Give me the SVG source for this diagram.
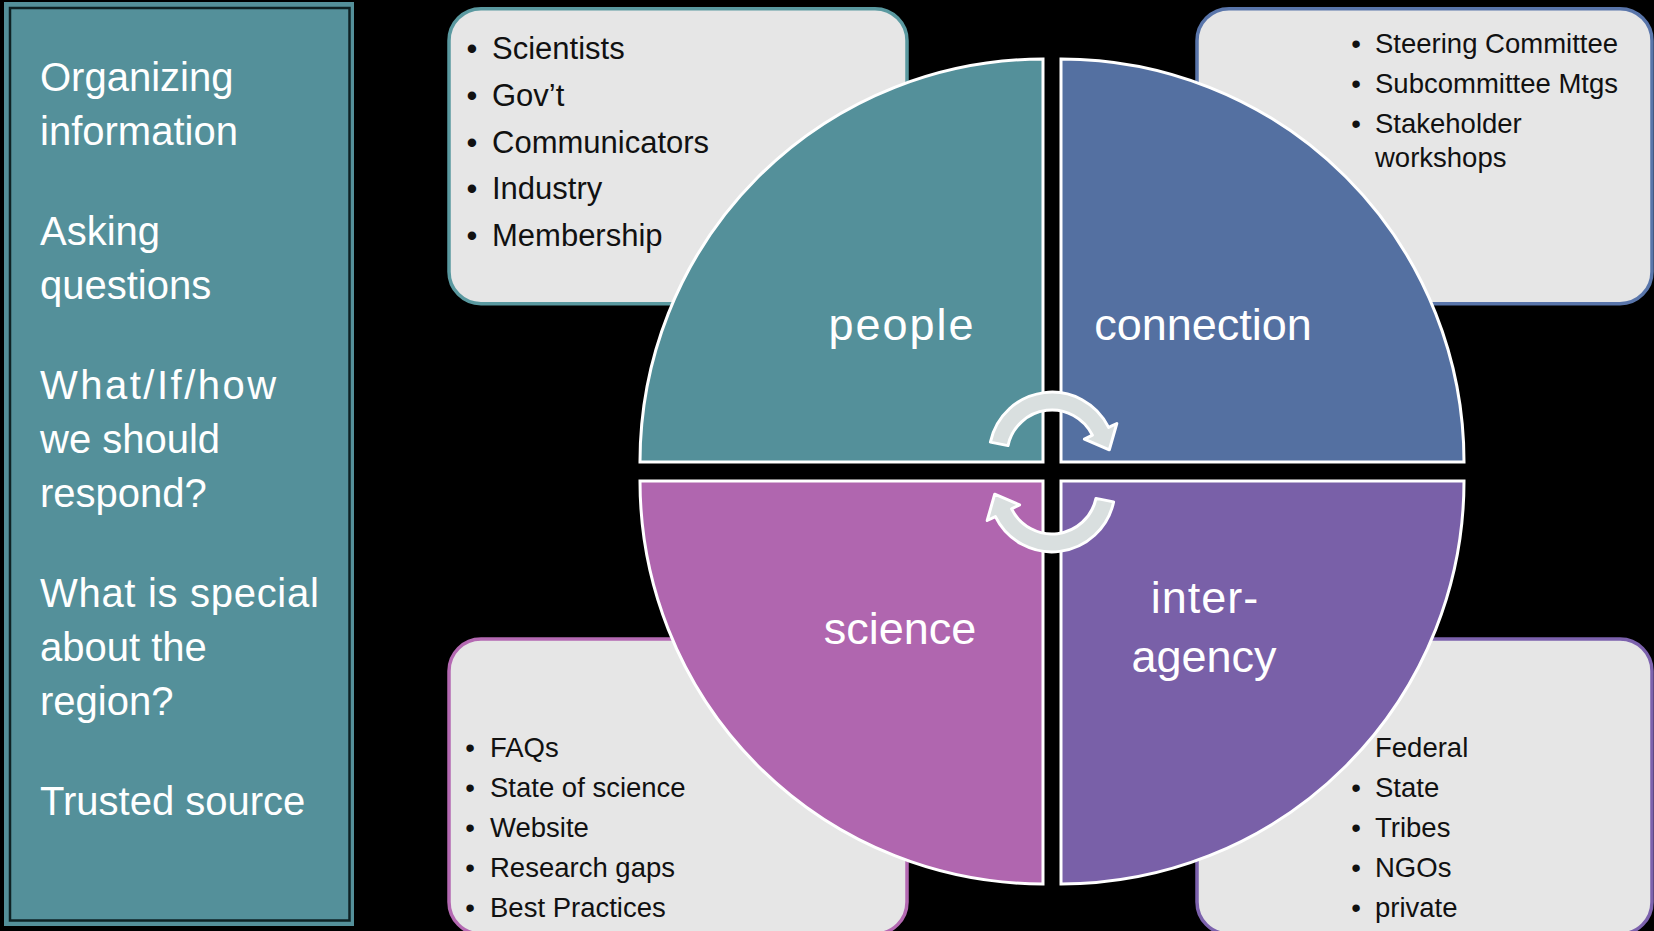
<svg xmlns="http://www.w3.org/2000/svg" width="1654" height="931" viewBox="0 0 1654 931">
<style>
.lp{font-family:"Liberation Sans",Arial,sans-serif;font-size:40px;fill:#ffffff}
.bx{fill:#e6e6e6;stroke-width:3.5}
.bt{font-family:"Liberation Sans",Arial,sans-serif;fill:#111111}
.b1{font-size:31px}
.b2{font-size:27.5px}
.q{stroke:#ffffff;stroke-width:3}
.ql{font-family:"Liberation Sans",Arial,sans-serif;font-size:45px;fill:#ffffff;text-anchor:middle}
.bu{text-anchor:middle}
.arr{fill:#d9dfdf;stroke:#ffffff;stroke-width:3;stroke-linejoin:round}
</style>
<defs>
<path id="arrowShape" d="M990.4,442.1 A63,63 0 0 1 1108.6,427.4 L1116.8,423.5 L1109.3,449.8 L1084.4,439.2 L1092.4,435.2 A45,45 0 0 0 1008.0,445.6 Z"/>
</defs>
<rect x="0" y="0" width="1654" height="931" fill="#000000"/>

<g id="left-panel">
<rect x="4" y="2" width="350" height="924" fill="#54909a"/>
<rect x="10" y="8" width="339.5" height="912.5" fill="none" stroke="#0e2224" stroke-width="2.5"/>
<text class="lp" x="40" y="91">Organizing</text>
<text class="lp" x="40" y="145">information</text>
<text class="lp" x="40" y="245">Asking</text>
<text class="lp" x="40" y="299">questions</text>
<text class="lp" x="40" y="399" letter-spacing="2.5">What/If/how</text>
<text class="lp" x="40" y="453">we should</text>
<text class="lp" x="40" y="507">respond?</text>
<text class="lp" x="40" y="607" letter-spacing="0.7">What is special</text>
<text class="lp" x="40" y="661">about the</text>
<text class="lp" x="40" y="715">region?</text>
<text class="lp" x="40" y="815">Trusted source</text>
</g>

<g id="box-people">
<rect class="bx" x="449" y="8.7" width="458" height="295" rx="32" stroke="#5a99a0"/>
<g class="bt b1">
<text class="bu" x="472" y="59">•</text><text x="492" y="59">Scientists</text>
<text class="bu" x="472" y="106">•</text><text x="492" y="106">Gov’t</text>
<text class="bu" x="472" y="153">•</text><text x="492" y="153">Communicators</text>
<text class="bu" x="472" y="199">•</text><text x="492" y="199">Industry</text>
<text class="bu" x="472" y="246">•</text><text x="492" y="246">Membership</text>
</g>
</g>

<g id="box-connection">
<rect class="bx" x="1197" y="8.7" width="455" height="295" rx="32" stroke="#5975aa"/>
<g class="bt b2">
<text class="bu" x="1356" y="53">•</text><text x="1375" y="53">Steering Committee</text>
<text class="bu" x="1356" y="93">•</text><text x="1375" y="93">Subcommittee Mtgs</text>
<text class="bu" x="1356" y="133">•</text><text x="1375" y="133">Stakeholder</text>
<text x="1375" y="167">workshops</text>
</g>
</g>

<g id="box-science">
<rect class="bx" x="449" y="639" width="458" height="295" rx="32" stroke="#b469b2"/>
<g class="bt b2">
<text class="bu" x="470" y="757">•</text><text x="490" y="757">FAQs</text>
<text class="bu" x="470" y="797">•</text><text x="490" y="797">State of science</text>
<text class="bu" x="470" y="837">•</text><text x="490" y="837">Website</text>
<text class="bu" x="470" y="877">•</text><text x="490" y="877">Research gaps</text>
<text class="bu" x="470" y="917">•</text><text x="490" y="917">Best Practices</text>
</g>
</g>

<g id="box-interagency">
<rect class="bx" x="1197" y="639" width="455" height="295" rx="32" stroke="#7c62ad"/>
<g class="bt b2">
<text x="1375" y="757">Federal</text>
<text class="bu" x="1356" y="797">•</text><text x="1375" y="797">State</text>
<text class="bu" x="1356" y="837">•</text><text x="1375" y="837">Tribes</text>
<text class="bu" x="1356" y="877">•</text><text x="1375" y="877">NGOs</text>
<text class="bu" x="1356" y="917">•</text><text x="1375" y="917">private</text>
</g>
</g>

<g id="quadrant-people">
<path class="q" d="M1043,462 L640,462 A403,403 0 0 1 1043,59 Z" fill="#54909a"/>
<text class="ql" x="902" y="340" letter-spacing="2">people</text>
</g>
<g id="quadrant-connection">
<path class="q" d="M1061,462 L1061,59 A403,403 0 0 1 1464,462 Z" fill="#5470a1"/>
<text class="ql" x="1203" y="340">connection</text>
</g>
<g id="quadrant-science">
<path class="q" d="M1043,481 L1043,884 A403,403 0 0 1 640,481 Z" fill="#b066af"/>
<text class="ql" x="900" y="644">science</text>
</g>
<g id="quadrant-interagency">
<path class="q" d="M1061,481 L1464,481 A403,403 0 0 1 1061,884 Z" fill="#7960a8"/>
<text class="ql" x="1205" y="613" letter-spacing="1">inter-</text>
<text class="ql" x="1204" y="672">agency</text>
</g>

<g id="connectors">
<use href="#arrowShape" class="arr"/>
<use href="#arrowShape" class="arr" transform="rotate(180 1052 472)"/>
</g>
</svg>
